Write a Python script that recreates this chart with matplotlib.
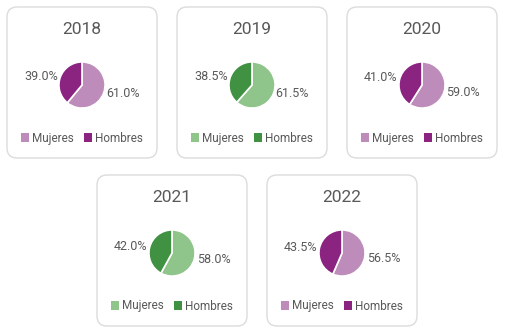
import matplotlib
matplotlib.use("Agg")
import matplotlib.pyplot as plt
from matplotlib.patches import FancyBboxPatch, Patch

years = ["2018", "2019", "2020", "2021", "2022"]
mujeres = [61.0, 61.5, 59.0, 58.0, 56.5]
hombres = [39.0, 38.5, 41.0, 42.0, 43.5]
labels = ["Mujeres", "Hombres"]

purple = ["#BE8CBA", "#8B2480"]
green = ["#8FC48A", "#409142"]
palettes = [purple, green, purple, green, purple]

# card positions in pixels (left, top)
cards = [(7, 7), (177, 7), (347, 7), (97, 175), (267, 175)]
card_w, card_h = 150, 151

W, H = 506, 331
plt.rcParams["font.family"] = ["Roboto", "DejaVu Sans"]
text_color = "#595959"

fig = plt.figure(figsize=(W / 100, H / 100), dpi=100)
bg = fig.add_axes([0, 0, 1, 1])
bg.set_xlim(0, W)
bg.set_ylim(H, 0)
bg.axis("off")

for i, year in enumerate(years):
    left, top = cards[i]
    bg.add_patch(FancyBboxPatch((left, top), card_w, card_h,
                                boxstyle="round,pad=0,rounding_size=10",
                                facecolor="white", edgecolor="#DCDCDC", lw=1))
    cx = left + card_w / 2
    bg.text(cx, top + 23, year, ha="center", va="center",
            fontsize=12.5, color=text_color)

    # pie axes, radius ~23 px
    size = 60
    py = top + 78
    ax = fig.add_axes([(cx - size / 2) / W, 1 - (py + size / 2) / H, size / W, size / H])
    vals = [mujeres[i], hombres[i]]
    wedges, texts = ax.pie(vals, colors=palettes[i], startangle=90, counterclock=False,
                           labels=[f"{v:.1f}%" for v in vals], labeldistance=1.1,
                           wedgeprops=dict(edgecolor="white", linewidth=1.2),
                           textprops=dict(fontsize=9, color=text_color))
    ax.set_xlim(-1.3, 1.3)
    ax.set_ylim(-1.3, 1.3)
    ax.set_aspect("equal")

    handles = [Patch(facecolor=c, edgecolor="none") for c in palettes[i]]
    ax.legend(handles, labels, loc="center", ncol=2, frameon=False,
              bbox_to_anchor=(cx / W, 1 - (top + 131) / H), bbox_transform=fig.transFigure,
              handlelength=0.7, handleheight=0.7, handletextpad=0.3, columnspacing=0.8,
              fontsize=8.5, labelcolor=text_color)

fig.savefig("out.png", dpi=100)
